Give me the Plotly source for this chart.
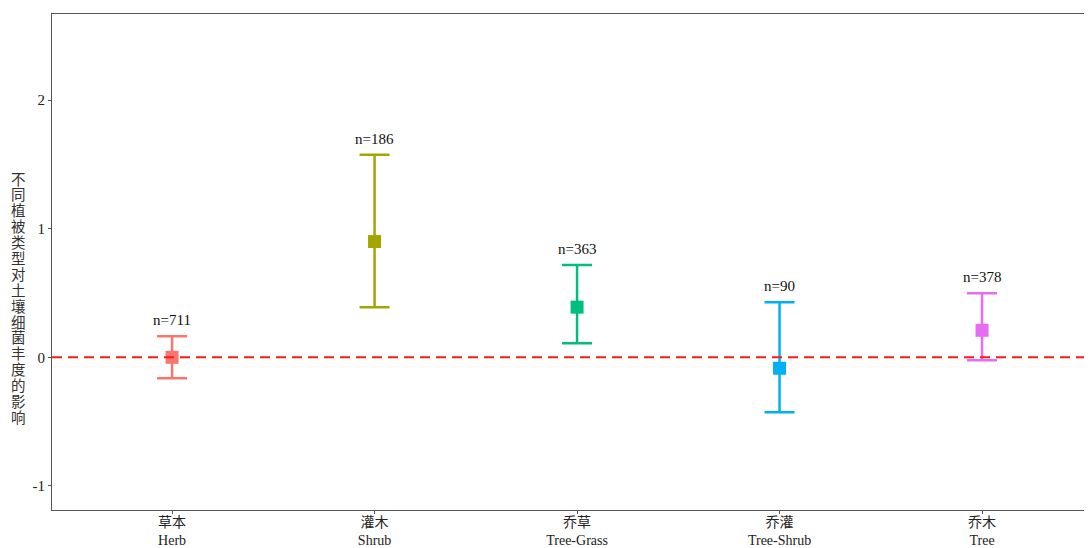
import plotly.graph_objects as go

categories_cn = ["草本", "灌木", "乔草", "乔灌", "乔木"]
categories_en = ["Herb", "Shrub", "Tree-Grass", "Tree-Shrub", "Tree"]
means = [0.00, 0.90, 0.39, -0.085, 0.21]
upper = [0.163, 1.575, 0.718, 0.428, 0.498]
lower = [-0.163, 0.390, 0.110, -0.428, -0.022]
n_labels = ["n=711", "n=186", "n=363", "n=90", "n=378"]
colors = ["#F8766D", "#A3A500", "#00BF7D", "#00B0F6", "#E76BF3"]
y_title = "不同植被类型对土壤细菌丰度的影响"

positions = list(range(1, len(categories_en) + 1))

W, H = 1084, 540
ML, MR, MT, MB = 44, 0, 6, 38
plot_h = H - MT - MB

fig = go.Figure()
for i, pos in enumerate(positions):
    fig.add_trace(go.Scatter(
        x=[pos], y=[means[i]], mode="markers",
        marker=dict(symbol="square", size=13, color=colors[i]),
        error_y=dict(type="data", symmetric=False,
                     array=[upper[i] - means[i]],
                     arrayminus=[means[i] - lower[i]],
                     color=colors[i], thickness=2.5, width=15),
        showlegend=False, hoverinfo="skip"))
    fig.add_annotation(x=pos, y=upper[i], text=n_labels[i], showarrow=False,
                       yanchor="bottom", yshift=6,
                       font=dict(family="Liberation Serif", size=15, color="#111"))

fig.add_shape(type="line", xref="paper", x0=0, x1=1, yref="y", y0=0, y1=0,
              line=dict(color="#FF1A1A", width=2, dash="10px,6px"))

# vertical (stacked) y-axis title, one character per line
first_center = 170.0  # figure px from top
step = 15.9
for k, ch in enumerate(y_title):
    fy = first_center + step * k
    fig.add_annotation(xref="paper", yref="paper",
                       x=(10 - ML) / (W - ML - MR), y=(H - MB - fy) / plot_h,
                       text=ch, showarrow=False, xanchor="center", yanchor="middle",
                       font=dict(family="Noto Sans CJK SC", size=14.5, color="#333"))

ticktext = [f"{c}<br>{e}" for c, e in zip(categories_cn, categories_en)]
fig.update_layout(
    width=W, height=H,
    margin=dict(l=ML, r=MR, t=MT, b=MB),
    paper_bgcolor="white", plot_bgcolor="white",
    font=dict(family="Liberation Serif, Noto Sans CJK SC", size=15, color="#222"),
    xaxis=dict(range=[0.407, 5.543], tickvals=positions, ticktext=ticktext,
               showgrid=False, zeroline=False, showline=True, linecolor="#555",
               linewidth=1, mirror=True, ticks="outside", ticklen=3,
               tickcolor="#555", automargin=False, ticklabelstandoff=-4,
               tickfont=dict(family="Liberation Serif, Noto Sans CJK SC", size=14, color="#222")),
    yaxis=dict(range=[-1.187, 2.669], tickvals=[-1, 0, 1, 2], ticktext=["-1", "0", "1", "2"],
               showgrid=False, zeroline=False, showline=True, linecolor="#555",
               linewidth=1, ticks="outside", ticklen=3, tickcolor="#555", automargin=False,
               tickfont=dict(family="Liberation Serif", size=15, color="#222")),
)

fig.write_html("out.html")
